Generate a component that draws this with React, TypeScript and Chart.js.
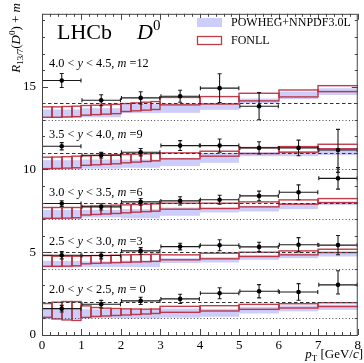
import React, { useEffect, useRef } from "react";
import { Chart, registerables } from "chart.js";
Chart.register(...registerables);

const FONT = "'Liberation Serif', 'Times New Roman', serif";

// ---- binning / axes ----
const ptEdges = [0, 1, 2, 3, 4, 5, 6, 7, 8];
const ptCentres = [0.5, 1.5, 2.5, 3.5, 4.5, 5.5, 6.5, 7.5];
const fonllEdges = [0, 0.25, 0.5, 0.75, 1, 1.25, 1.5, 1.75, 2, 2.25, 2.5, 2.75, 3, 4, 5, 6, 7, 8];
const xTicks = [0, 1, 2, 3, 4, 5, 6, 7, 8];
const yTicks = [0, 5, 10, 15];
const offsets = [0, 3, 6, 9, 12];
const rapLo = ["2.0", "2.5", "3.0", "3.5", "4.0"];
const rapHi = ["2.5", "3.0", "3.5", "4.0", "4.5"];
const offsetText = [" = 0", " =3", " =6", " =9", " =12"];
const labelPos = [2.75, 5.7, 8.65, 12.15, 16.4];

// ---- 2.0 < y < 2.5 (m = 0) ----
const r20 = [1.59, 1.86, 2.06, 2.18, 2.52, 2.64, 2.6, 3.03];
const up20 = [0.2, 0.23, 0.22, 0.28, 0.33, 0.4, 0.5, 0.85];
const dn20 = [0.2, 0.23, 0.22, 0.28, 0.33, 0.4, 0.5, 0.55];
const powLo20 = [0.95, 1.02, 1.0, 1.05, 1.1, 1.3, 1.43, 1.52];
const powHi20 = [1.6, 1.55, 1.55, 1.6, 1.58, 1.7, 1.78, 1.83];
const fonLo20 = [1.07, 0.97, 0.91, 0.88, 1.06, 1.12, 1.15, 1.18, 1.21, 1.24, 1.27, 1.3, 1.37, 1.45, 1.55, 1.63, 1.72];
const fonHi20 = [1.9, 1.98, 2.02, 2.02, 1.76, 1.66, 1.62, 1.6, 1.58, 1.57, 1.56, 1.57, 1.73, 1.77, 1.85, 1.89, 1.95];

// ---- 2.5 < y < 3.0 (m = 3) ----
const r25 = [1.82, 1.8, 2.08, 2.34, 2.42, 2.32, 2.45, 2.43];
const up25 = [0.22, 0.2, 0.2, 0.2, 0.33, 0.28, 0.43, 0.58];
const dn25 = [0.22, 0.2, 0.2, 0.2, 0.33, 0.28, 0.43, 0.58];
const powLo25 = [1.08, 1.1, 1.1, 1.35, 1.38, 1.54, 1.64, 1.74];
const powHi25 = [1.48, 1.45, 1.5, 1.64, 1.7, 1.84, 1.94, 2.04];
const fonLo25 = [1.15, 1.15, 1.16, 1.18, 1.3, 1.33, 1.35, 1.37, 1.39, 1.41, 1.43, 1.45, 1.54, 1.6, 1.74, 1.84, 1.98];
const fonHi25 = [1.8, 1.76, 1.76, 1.76, 1.78, 1.8, 1.8, 1.82, 1.84, 1.85, 1.86, 1.88, 1.84, 1.94, 2.0, 2.08, 2.18];

// ---- 3.0 < y < 3.5 (m = 6) ----
const r30 = [1.94, 1.74, 2.04, 2.1, 2.17, 2.4, 2.62, 3.46];
const up30 = [0.17, 0.19, 0.2, 0.25, 0.27, 0.29, 0.45, 0.65];
const dn30 = [0.17, 0.19, 0.2, 0.25, 0.27, 0.29, 0.45, 0.65];
const powLo30 = [1.0, 1.1, 1.05, 1.2, 1.4, 1.46, 1.6, 1.85];
const powHi30 = [1.55, 1.55, 1.6, 1.7, 1.7, 1.8, 1.96, 2.04];
const fonLo30 = [1.05, 1.05, 1.06, 1.08, 1.25, 1.28, 1.31, 1.34, 1.38, 1.42, 1.45, 1.48, 1.6, 1.64, 1.74, 1.9, 2.0];
const fonHi30 = [1.7, 1.7, 1.7, 1.7, 1.78, 1.8, 1.82, 1.84, 1.86, 1.88, 1.9, 1.92, 1.96, 1.96, 2.04, 2.16, 2.24];

// ---- 3.5 < y < 4.0 (m = 9) ----
const r35 = [2.4, 1.86, 2.04, 2.44, 2.44, 2.3, 2.3, 2.17];
const up35 = [0.22, 0.17, 0.22, 0.3, 0.4, 0.37, 0.47, 1.25];
const dn35 = [0.22, 0.17, 0.22, 0.3, 0.4, 0.37, 0.47, 1.35];
const powLo35 = [1.0, 1.05, 1.1, 1.2, 1.4, 1.8, 1.8, 1.86];
const powHi35 = [1.56, 1.6, 1.6, 1.7, 2.0, 2.04, 2.1, 2.28];
const fonLo35 = [1.05, 1.06, 1.08, 1.1, 1.25, 1.28, 1.31, 1.34, 1.4, 1.44, 1.48, 1.52, 1.64, 1.8, 1.96, 2.04, 2.25];
const fonHi35 = [1.74, 1.75, 1.77, 1.8, 1.82, 1.84, 1.86, 1.88, 1.9, 1.92, 1.94, 1.96, 2.0, 2.1, 2.32, 2.38, 2.52];

// ---- 4.0 < y < 4.5 (m = 12) ----
const r40 = [3.37, 2.18, 2.32, 2.42, 2.91, 1.82, null, null];
const up40 = [0.42, 0.33, 0.37, 0.36, 0.87, 0.82, 0, 0];
const dn40 = [0.42, 0.33, 0.37, 0.36, 0.87, 0.82, 0, 0];
const powLo40 = [1.12, 1.15, 1.4, 1.42, 1.6, 2.0, 2.25, 2.5];
const powHi40 = [1.62, 1.7, 1.95, 2.0, 2.02, 2.28, 2.7, 2.9];
const fonLo40 = [1.15, 1.15, 1.17, 1.19, 1.28, 1.31, 1.34, 1.37, 1.5, 1.54, 1.58, 1.62, 1.9, 1.95, 2.14, 2.38, 2.7];
const fonHi40 = [1.78, 1.78, 1.8, 1.82, 1.86, 1.88, 1.9, 1.93, 1.98, 2.02, 2.06, 2.1, 2.35, 2.4, 2.6, 2.8, 3.06];

type Bin = {
  m: number; r: (number | null)[]; up: number[]; dn: number[];
  powLo: number[]; powHi: number[]; fonLo: number[]; fonHi: number[];
};
const bins: Bin[] = [
  { m: offsets[0], r: r20, up: up20, dn: dn20, powLo: powLo20, powHi: powHi20, fonLo: fonLo20, fonHi: fonHi20 },
  { m: offsets[1], r: r25, up: up25, dn: dn25, powLo: powLo25, powHi: powHi25, fonLo: fonLo25, fonHi: fonHi25 },
  { m: offsets[2], r: r30, up: up30, dn: dn30, powLo: powLo30, powHi: powHi30, fonLo: fonLo30, fonHi: fonHi30 },
  { m: offsets[3], r: r35, up: up35, dn: dn35, powLo: powLo35, powHi: powHi35, fonLo: fonLo35, fonHi: fonHi35 },
  { m: offsets[4], r: r40, up: up40, dn: dn40, powLo: powLo40, powHi: powHi40, fonLo: fonLo40, fonHi: fonHi40 },
];

const POW_COL = "#cdcdf9";
const FON_COL = "rgba(185,40,55,0.9)";

type Piece = { t: string; italic?: boolean; size?: number; dy?: number };
function drawRich(ctx: CanvasRenderingContext2D, pieces: Piece[], x: number, y: number, base: number, align: "left" | "right") {
  const f = (p: Piece) => `${p.italic ? "italic " : ""}${p.size ?? base}px ${FONT}`;
  let total = 0;
  for (const p of pieces) { ctx.font = f(p); total += ctx.measureText(p.t).width; }
  let cx = align === "right" ? x - total : x;
  ctx.textAlign = "left";
  ctx.textBaseline = "alphabetic";
  for (const p of pieces) {
    ctx.font = f(p);
    ctx.fillText(p.t, cx, y + (p.dy ?? 0));
    cx += ctx.measureText(p.t).width;
  }
}

const physicsPlugin = {
  id: "physics",
  beforeDatasetsDraw(chart: any) {
    const { ctx, chartArea: a, scales } = chart;
    const xs = scales.x, ys = scales.y;
    const px = (v: number) => Math.round(xs.getPixelForValue(v));
    const py = (v: number) => ys.getPixelForValue(v);
    ctx.save();
    ctx.beginPath();
    ctx.rect(a.left, a.top, a.right - a.left, a.bottom - a.top);
    ctx.clip();
    // POWHEG bands
    ctx.fillStyle = POW_COL;
    for (const b of bins) {
      for (let i = 0; i < ptEdges.length - 1; i++) {
        const x0 = px(ptEdges[i]), x1 = px(ptEdges[i + 1]);
        const yt = py(b.powHi[i] + b.m), yb = py(b.powLo[i] + b.m);
        ctx.fillRect(x0, yt, x1 - x0, yb - yt);
      }
    }
    // FONLL boxes
    ctx.strokeStyle = FON_COL;
    ctx.lineWidth = 1.4;
    for (const b of bins) {
      for (let i = 0; i < fonllEdges.length - 1; i++) {
        const x0 = px(fonllEdges[i]), x1 = px(fonllEdges[i + 1]);
        const yt = py(b.fonHi[i] + b.m), yb = py(b.fonLo[i] + b.m);
        ctx.strokeRect(x0, yt, x1 - x0, yb - yt);
      }
    }
    // reference lines
    for (const b of bins) {
      ctx.lineWidth = 1.2;
      ctx.strokeStyle = "#333";
      ctx.setLineDash([3.5, 2.5]);
      ctx.beginPath();
      ctx.moveTo(a.left, Math.round(py(b.m + 2)) + 0.5);
      ctx.lineTo(a.right, Math.round(py(b.m + 2)) + 0.5);
      ctx.stroke();
      ctx.lineWidth = 1;
      ctx.strokeStyle = "#444";
      ctx.setLineDash([1, 2.3]);
      ctx.beginPath();
      ctx.moveTo(a.left, Math.round(py(b.m + 1)) + 0.5);
      ctx.lineTo(a.right, Math.round(py(b.m + 1)) + 0.5);
      ctx.stroke();
    }
    ctx.setLineDash([]);
    // error bars
    ctx.strokeStyle = "#1a1a1a";
    ctx.lineWidth = 1.1;
    for (const b of bins) {
      b.r.forEach((v, i) => {
        if (v === null) return;
        const cx = xs.getPixelForValue(ptCentres[i]);
        const cy = py(v + b.m);
        const xl = xs.getPixelForValue(ptEdges[i]), xr = xs.getPixelForValue(ptEdges[i + 1]);
        const yu = py(v + b.m + b.up[i]), yd = py(v + b.m - b.dn[i]);
        ctx.beginPath();
        ctx.moveTo(xl + 0.5, cy); ctx.lineTo(xr - 0.5, cy);
        ctx.moveTo(xl + 0.5, cy - 2); ctx.lineTo(xl + 0.5, cy + 2);
        ctx.moveTo(xr - 0.5, cy - 2); ctx.lineTo(xr - 0.5, cy + 2);
        ctx.moveTo(cx, yu); ctx.lineTo(cx, yd);
        ctx.moveTo(cx - 2, yu); ctx.lineTo(cx + 2, yu);
        ctx.moveTo(cx - 2, yd); ctx.lineTo(cx + 2, yd);
        ctx.stroke();
      });
    }
    ctx.restore();
  },
  afterDraw(chart: any) {
    const { ctx, chartArea: a, scales } = chart;
    const xs = scales.x, ys = scales.y;
    ctx.save();
    // frame
    ctx.strokeStyle = "#444";
    ctx.lineWidth = 1;
    ctx.strokeRect(a.left + 0.5, a.top + 0.5, a.right - a.left - 1, a.bottom - a.top);
    // inner ticks
    ctx.beginPath();
    for (let k = 0; k <= 40; k++) {
      const v = k * 0.2;
      const x = Math.round(xs.getPixelForValue(v)) + 0.5;
      const major = Math.abs(v - Math.round(v)) < 1e-6;
      const len = major ? 6 : 3;
      ctx.moveTo(x, a.bottom); ctx.lineTo(x, a.bottom - len);
      ctx.moveTo(x, a.top); ctx.lineTo(x, a.top + len);
    }
    for (let v = 0; v <= 19; v++) {
      const y = Math.round(ys.getPixelForValue(v)) + 0.5;
      const len = v % 5 === 0 ? 6 : 3;
      ctx.moveTo(a.left, y); ctx.lineTo(a.left + len, y);
      ctx.moveTo(a.right, y); ctx.lineTo(a.right - len, y);
    }
    ctx.stroke();
    ctx.fillStyle = "#000";
    // rapidity labels
    bins.forEach((b, i) => {
      const y = ys.getPixelForValue(labelPos[i]) + 4;
      drawRich(ctx, [
        { t: `${rapLo[i]} < ` }, { t: "y", italic: true }, { t: ` < ${rapHi[i]}, ` },
        { t: "m", italic: true }, { t: offsetText[i] },
      ], 49, y, 12.3, "left");
    });
    // LHCb label
    ctx.font = `22px ${FONT}`;
    ctx.textAlign = "left";
    ctx.textBaseline = "alphabetic";
    ctx.fillText("LHCb", 57, 39);
    const w = ctx.measureText("LHCb").width;
    drawRich(ctx, [{ t: "D", italic: true, size: 22 }, { t: "0", size: 15, dy: -9 }], 57 + w + 25, 39, 22, "left");
    // legend
    ctx.fillStyle = POW_COL;
    ctx.fillRect(197, 18, 25, 9);
    ctx.strokeStyle = FON_COL;
    ctx.lineWidth = 1.3;
    ctx.strokeRect(197.5, 36.5, 24, 8);
    ctx.fillStyle = "#000";
    ctx.font = `12px ${FONT}`;
    ctx.textBaseline = "middle";
    ctx.fillText("POWHEG+NNPDF3.0L", 231, 23);
    ctx.fillText("FONLL", 231, 41);
    // axis titles
    drawRich(ctx, [
      { t: "p", italic: true }, { t: "T", size: 9, dy: 3 }, { t: " [GeV/" }, { t: "c", italic: true }, { t: "]" },
    ], 363, 358, 13, "right");
    ctx.save();
    ctx.translate(20, 3);
    ctx.rotate(-Math.PI / 2);
    drawRich(ctx, [
      { t: "R", italic: true }, { t: "13/7", size: 9, dy: 3 }, { t: "(" }, { t: "D", italic: true },
      { t: "0", size: 9, dy: -5 }, { t: ") + " }, { t: "m", italic: true },
    ], 0, 0, 13, "right");
    ctx.restore();
    ctx.restore();
  },
};

export default function App() {
  const ref = useRef<HTMLCanvasElement | null>(null);
  useEffect(() => {
    document.body.style.margin = "0";
    if (!ref.current) return;
    const datasets = bins.map((b) => ({
      label: `m=${b.m}`,
      data: b.r
        .map((v, i) => (v === null ? null : { x: ptCentres[i], y: v + b.m }))
        .filter((p) => p !== null),
      pointRadius: 2.3,
      pointBackgroundColor: "#000",
      pointBorderColor: "#000",
      pointBorderWidth: 0,
      showLine: false,
    }));
    const chart = new Chart(ref.current, {
      type: "scatter",
      data: { datasets: datasets as any },
      options: {
        animation: false,
        responsive: false,
        devicePixelRatio: 1,
        layout: { padding: { top: 9, right: 2, left: 0, bottom: 0 } },
        plugins: { legend: { display: false }, tooltip: { enabled: false } },
        scales: {
          x: {
            type: "linear", min: 0, max: 8,
            grid: { display: false, drawTicks: false }, border: { display: false },
            afterBuildTicks: (s: any) => { s.ticks = xTicks.map((v) => ({ value: v })); },
            afterFit: (s: any) => { s.height = 28; },
            ticks: { font: { size: 13, family: FONT }, color: "#000", padding: 3, maxRotation: 0, autoSkip: false },
          },
          y: {
            type: "linear", min: 0, max: 19.4,
            grid: { display: false, drawTicks: false }, border: { display: false },
            afterBuildTicks: (s: any) => { s.ticks = yTicks.map((v) => ({ value: v })); },
            afterFit: (s: any) => { s.width = 42; },
            ticks: { font: { size: 13, family: FONT }, color: "#000", padding: 6, autoSkip: false },
          },
        },
      },
      plugins: [physicsPlugin],
    });
    return () => chart.destroy();
  }, []);
  return <canvas ref={ref} width={364} height={363} style={{ display: "block" }} />;
}
